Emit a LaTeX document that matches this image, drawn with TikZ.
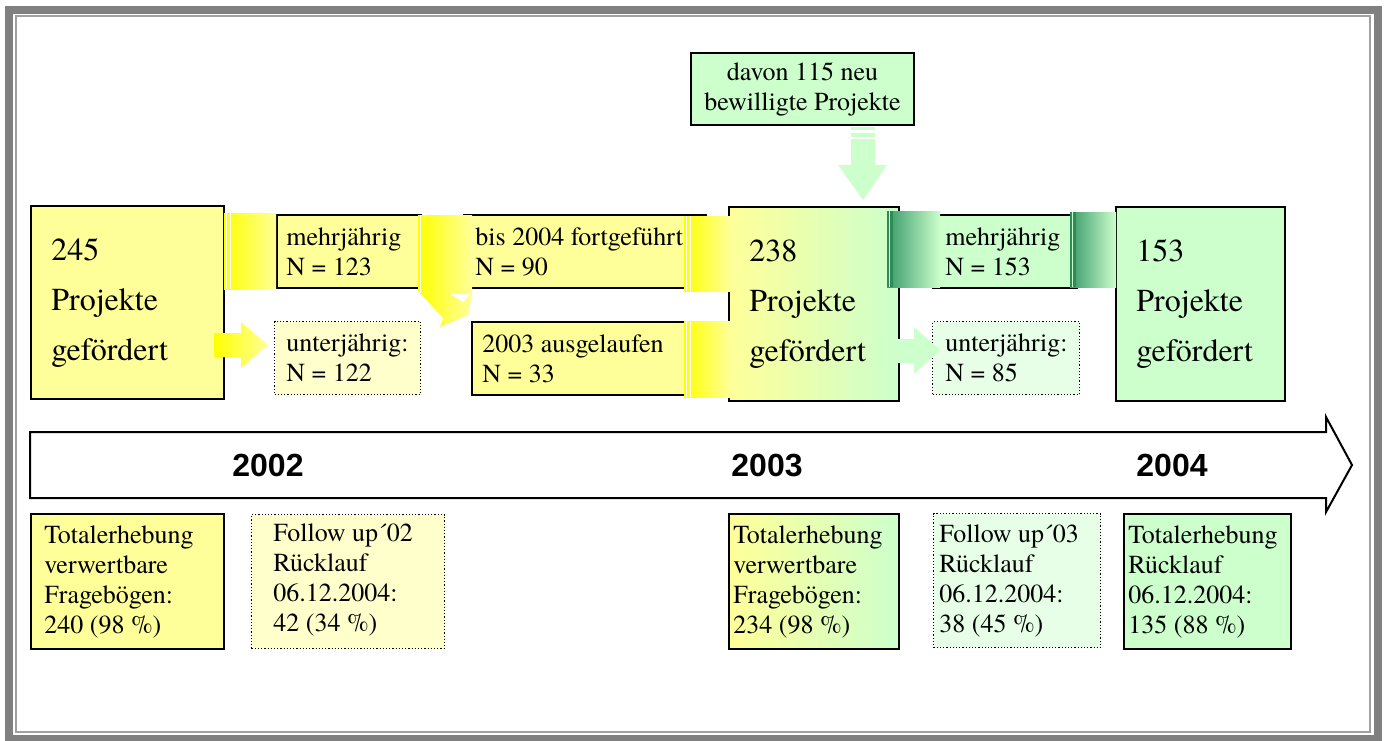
\documentclass[tikz,border=0pt]{standalone}
\usepackage{fontspec}
\setmainfont{TeX Gyre Termes}
\newfontfamily\yearfont{Liberation Sans}
\definecolor{Y}{HTML}{FFFF99}
\definecolor{YL}{HTML}{FFFFCC}
\definecolor{BY}{HTML}{FFFF00}
\definecolor{G}{HTML}{CCFFCC}
\definecolor{GL}{HTML}{E6FFE6}
\definecolor{DG}{HTML}{3A9A6A}
\definecolor{DGS}{HTML}{2E8B57}
\definecolor{frameout}{HTML}{808080}
\definecolor{framein}{HTML}{A0A0A0}
\begin{document}
\begin{tikzpicture}[x=0.5pt,y=-0.5pt,
  box/.style={draw=black, line width=1pt, inner sep=0pt, anchor=north west},
  dotbox/.style={draw=black, line width=0.6pt, dash pattern=on 0.6pt off 1pt, inner sep=0pt, anchor=north west},
  txtM/.style={font=\fontsize{13}{15}\selectfont, align=left, inner sep=0pt, anchor=west},
  txtL/.style={font=\fontsize{16}{25}\selectfont, align=left, inner sep=0pt, anchor=west},
  year/.style={font=\yearfont\bfseries\fontsize{16}{19}\selectfont, inner sep=0pt},
  timeline/.style={draw=black, line width=1pt, fill=white, line join=miter},
  stripe/.style={fill=white}
]
\useasboundingbox (0,0) rectangle (1384,740);
\fill[white] (0,0) rectangle (1384,740);
% frame
\draw[frameout, line width=4pt] (9,10) rectangle (1378,739);
\draw[framein, line width=1pt] (16,16) rectangle (1370,732);

% ---------- top row boxes ----------
\node[box, fill=Y, minimum width=96.5pt, minimum height=96.5pt] (b245) at (30,205) {};
\node[box, fill=Y, minimum width=72pt, minimum height=36.5pt] (m123) at (276,214) {};
\node[box, fill=Y, minimum width=121pt, minimum height=36.5pt] (f90) at (463,214) {};
\node[dotbox, fill=YL, minimum width=73pt, minimum height=36.5pt] (u122) at (274,321) {};
\node[box, fill=Y, minimum width=109.5pt, minimum height=36.5pt] (a33) at (471,321) {};
\node[box, left color=Y, right color=G, minimum width=85pt, minimum height=97pt] (b238) at (728,206) {};
\node[box, fill=G, minimum width=111.5pt, minimum height=36pt] (davon) at (690,52) {};
\node[font=\fontsize{13}{15}\selectfont, align=center, inner sep=0pt] (tdavon) at (davon.center) {davon 115 neu\\bewilligte Projekte};
\node[box, fill=G, minimum width=72pt, minimum height=36.5pt] (m153) at (932,214) {};
\node[dotbox, fill=GL, minimum width=73.5pt, minimum height=36.5pt] (u85) at (932,321) {};
\node[box, fill=G, minimum width=84.5pt, minimum height=97pt] (b153) at (1115,206) {};

% texts
\node[txtL] (t245) at ([xshift=10.5pt]b245.west) {245\\Projekte\\gefördert};
\node[txtM] (tm123) at ([xshift=5pt]m123.west) {mehrjährig\\N = 123};
\node[txtM] (tf90) at ([xshift=6pt]f90.west) {bis 2004 fortgeführt:\\N = 90};
\node[txtM] (tu122) at ([xshift=6pt]u122.west) {unterjährig:\\N = 122};
\node[txtM] (ta33) at ([xshift=5.5pt]a33.west) {2003 ausgelaufen\\N = 33};
\node[txtL] (t238) at ([xshift=10.5pt]b238.west) {238\\Projekte\\gefördert};
\node[txtM] (tm153) at ([xshift=6.5pt]m153.west) {mehrjährig\\N = 153};
\node[txtM] (tu85) at ([xshift=6.5pt]u85.west) {unterjährig:\\N = 85};
\node[txtL] (t153) at ([xshift=10.5pt]b153.west) {153\\Projekte\\gefördert};

% ---------- bands (block connectors) ----------
% 245 -> mehrjährig 123
\path[left color=BY, right color=Y] (224,213) rectangle (276,289);
\fill[stripe] (225.5,213) rectangle (226.5,289);
\fill[stripe] (229.5,213) rectangle (230.5,289);
% mehrjährig 123 -> bis 2004 (with bend down to 2003 ausgelaufen)
\path[left color=BY, right color=Y] (418,215) rectangle (472,290);
\path[left color=BY, right color=Y] (418,289) -- (472,289) -- (472,295) -- (468,315) -- (440,327) -- (443,318) -- (420,293) -- cycle;
\fill[white] (450,294) -- (470,294) -- (463,302) -- cycle;
\fill[stripe] (420,215) rectangle (421,293);
\fill[stripe] (425,215) rectangle (426,293);
% bis 2004 -> 238, 2003 ausgelaufen -> 238
\path[left color=BY, right color=Y] (684,216) rectangle (730,291);
\fill[stripe] (686,216) rectangle (687,291);
\fill[stripe] (690,216) rectangle (691,291);
\path[left color=BY, right color=Y] (684,321) rectangle (730,397);
\fill[stripe] (686,321) rectangle (687,397);
\fill[stripe] (690,321) rectangle (691,397);
% 238 -> mehrjährig 153
\path[left color=DG, right color=G] (887,211) rectangle (940,287);
\fill[DGS] (887,211) rectangle (889,287);
\fill[DGS] (890,211) rectangle (893,287);
\fill[G] (889,211) rectangle (890,287);
% mehrjährig 153 -> 153
\path[left color=DG, right color=G] (1070,212) rectangle (1116,287);
\fill[DGS] (1070,212) rectangle (1072,287);
\fill[DGS] (1073,212) rectangle (1076,287);
\fill[G] (1072,212) rectangle (1073,287);

% small arrows
\path[left color=BY, right color=Y] (214,333) -- (241,333) -- (241,322) -- (268,345) -- (241,368) -- (241,357) -- (214,357) -- cycle;
\fill[G] (897,339) -- (914,339) -- (914,327) -- (940,350) -- (914,374) -- (914,363) -- (897,363) -- cycle;
% davon -> 238 (down arrow)
\fill[G] (851,127) rectangle (875,130);
\fill[G] (851,133) rectangle (875,137);
\fill[G] (851,139) -- (875,139) -- (875,165) -- (887,165) -- (863,200) -- (838,165) -- (851,165) -- cycle;

% ---------- timeline ----------
\draw[timeline] (30,432) -- (1326,432) -- (1326,417) -- (1352,465) -- (1326,512) -- (1326,498) -- (30,498) -- cycle;
\node[year] (y2002) at (268,465) {2002};
\node[year] (y2003) at (767,465) {2003};
\node[year] (y2004) at (1172,465) {2004};

% ---------- bottom boxes ----------
\node[box, fill=Y, minimum width=96.5pt, minimum height=67.5pt] (t02) at (30,513) {};
\node[dotbox, fill=YL, minimum width=96.5pt, minimum height=67pt] (f02) at (251,514) {};
\node[box, left color=Y, right color=G, minimum width=85pt, minimum height=67.5pt] (t03) at (728,513) {};
\node[dotbox, fill=GL, minimum width=83.5pt, minimum height=67pt] (f03) at (933,513) {};
\node[box, fill=G, minimum width=83.5pt, minimum height=67.5pt] (t04) at (1123,513) {};

\node[txtM] (tt02) at ([xshift=7pt]t02.west) {Totalerhebung\\verwertbare\\Fragebögen:\\240 (98 \%)};
\node[txtM] (tf02) at ([xshift=11pt,yshift=1pt]f02.west) {Follow up´02\\Rücklauf\\06.12.2004:\\42 (34 \%)};
\node[txtM] (tt03) at ([xshift=2.5pt]t03.west) {Totalerhebung\\verwertbare\\Fragebögen:\\234 (98 \%)};
\node[txtM] (tf03) at ([xshift=3pt]f03.west) {Follow up´03\\Rücklauf\\06.12.2004:\\38 (45 \%)};
\node[txtM] (tt04) at ([xshift=2.5pt]t04.west) {Totalerhebung\\Rücklauf\\06.12.2004:\\135 (88 \%)};
\end{tikzpicture}
\end{document}
